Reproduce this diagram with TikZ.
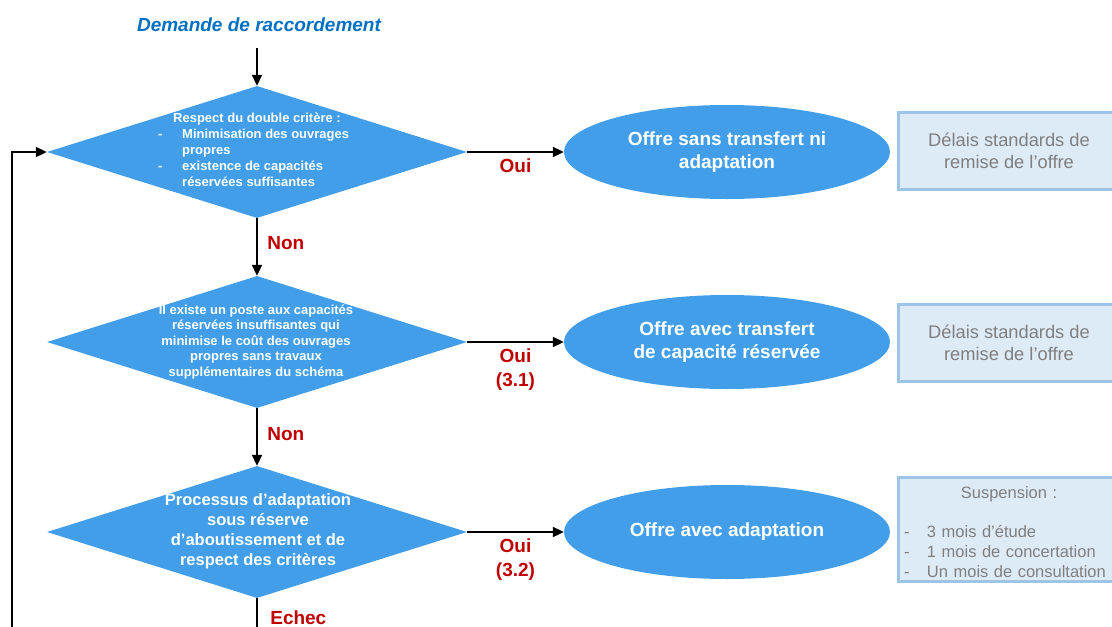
\documentclass[tikz,border=0pt]{standalone}
\usepackage{fontspec}
\setmainfont{Liberation Sans}
\usetikzlibrary{shapes.geometric,arrows.meta,positioning}

\definecolor{bleu}{RGB}{66,158,232}
\definecolor{bleutitre}{RGB}{0,112,192}
\definecolor{rouge}{RGB}{192,0,0}
\definecolor{fondboite}{RGB}{221,235,247}
\definecolor{bordboite}{RGB}{157,195,230}
\definecolor{grisboite}{RGB}{127,127,127}

\tikzset{
    losange/.style={diamond, fill=bleu, inner sep=0pt, minimum width=420pt, minimum height=132pt},
    txtlosange/.style={text=white, font=\fontsize{13}{16}\selectfont\bfseries, align=center, inner sep=0pt},
    offre/.style={ellipse, fill=bleu, text=white, font=\fontsize{19}{23}\selectfont\bfseries, align=center, minimum width=326pt, minimum height=94pt},
    delai/.style={rectangle, fill=fondboite, draw=bordboite, line width=3pt, text=grisboite, font=\fontsize{18.3}{22}\selectfont, align=center, minimum width=221pt, minimum height=77pt},
    fleche/.style={line width=2pt, -{Triangle[length=11pt,width=10pt]}},
    etiq/.style={text=rouge, font=\fontsize{19}{24}\selectfont\bfseries, align=center}
}

\begin{document}
\begin{tikzpicture}[x=1pt, y=-1pt]
        \useasboundingbox (0,0) rectangle (1112,627);
        \clip (0,0) rectangle (1112,627);
        % Demande
        \node[text=bleutitre, font=\fontsize{19}{23}\selectfont\bfseries\itshape] (titre) at (259,25) {Demande de raccordement};
        % Questions
        \node[losange] (q1) at (257,152) {};
        \node[losange] (q2) at (257,342) {};
        \node[losange] (q3) at (257,532) {};
        \node[txtlosange, align=left, anchor=west] (t1) at (158,150) {\hspace*{15pt}Respect du double critère :\\
            \makebox[24pt][l]{-}Minimisation des ouvrages\\
            \hspace*{24pt}propres\\
            \makebox[24pt][l]{-}existence de capacités\\
            \hspace*{24pt}réservées suffisantes};
        \node[txtlosange, font=\fontsize{13}{15.5}\selectfont\bfseries] (t2) at (256,342) {Il existe un poste aux capacités\\réservées insuffisantes qui\\minimise le coût des ouvrages\\propres sans travaux\\supplémentaires du schéma};
        \node[txtlosange, font=\fontsize{16.5}{20}\selectfont\bfseries] (t3) at (258,531) {Processus d’adaptation\\sous réserve\\d’aboutissement et de\\respect des critères};
        % Offres
        \node[offre] (o1) at (727,152) {Offre sans transfert ni\\adaptation};
        \node[offre] (o2) at (727,342) {Offre avec transfert\\de capacité réservée};
        \node[offre] (o3) at (727,532) {Offre avec adaptation};
        % Delais
        \node[delai] (d1) at (1009,151) {Délais standards de\\remise de l’offre};
        \node[delai] (d2) at (1009,343) {Délais standards de\\remise de l’offre};
        \node[delai, minimum height=102pt, text width=210pt, align=left, font=\fontsize{16.5}{20}\selectfont] (d3) at (1009,529.5) {\rule{0pt}{18pt}\makebox[210pt]{Suspension :}\\[19pt]
            \makebox[23pt][l]{-}3 mois d’étude\\
            \makebox[23pt][l]{-}1 mois de concertation\\
            \makebox[23pt][l]{-}Un mois de consultation};
        % Liaisons
        \coordinate (fin) at (257,627);
        \coordinate (retour) at (12,627);
        \draw[fleche, shorten <=12pt] (titre.south -| q1.north) -- (q1.north);
        \draw[fleche] (q1.south) -- (q2.north) node[etiq, pos=0.43, right=6pt] {Non};
        \draw[fleche] (q2.south) -- (q3.north) node[etiq, pos=0.45, right=6pt] {Non};
        \draw[line width=2pt] (q3.south) -- (fin) node[etiq, pos=0.69, right=9pt] {Echec};
        \draw[fleche] (retour) |- (q1.west);
        \foreach \i/\rep in {1/Oui, 2/{Oui\\(3.1)}, 3/{Oui\\(3.2)}} {
                \draw[fleche] (q\i.east) -- (o\i.west) node[etiq, pos=0.5, below=2pt] {\rep};
            }
    \end{tikzpicture}
\end{document}
